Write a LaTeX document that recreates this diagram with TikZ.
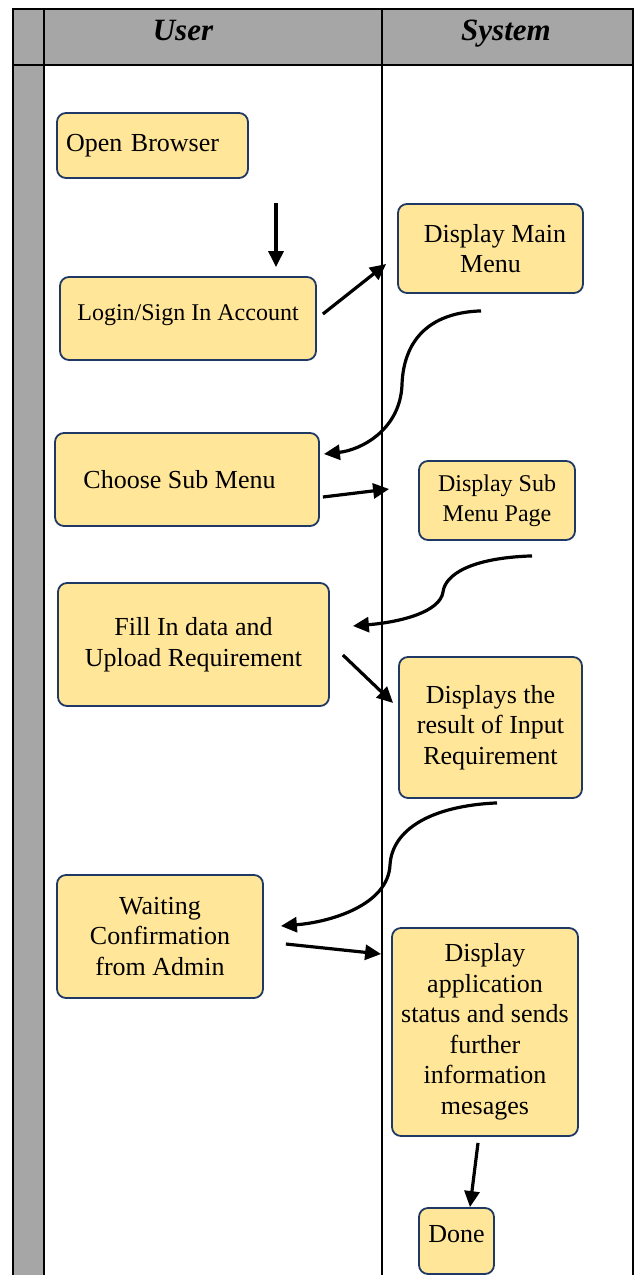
\documentclass[tikz,border=0pt]{standalone}
\usepackage{fontspec}
\setmainfont{Liberation Serif}
\usetikzlibrary{arrows.meta,calc}
\definecolor{boxfill}{HTML}{FFE699}
\definecolor{boxline}{HTML}{1F3864}
\definecolor{lanegray}{HTML}{A6A6A6}
\begin{document}
\begin{tikzpicture}[x=1pt,y=-1pt,
  act/.style={draw=boxline, line width=1.8pt, fill=boxfill, rounded corners=9pt,
    align=center, inner sep=0pt, font=\fontsize{26}{30.5}\selectfont},
  smalltext/.style={font=\fontsize{24}{30}\selectfont},
  flow/.style={line width=3.2pt, -{Triangle[length=16pt,width=15pt]}},
  lane/.style={line width=2pt},
  head/.style={font=\fontsize{31}{31}\selectfont\bfseries\itshape, anchor=base}]
\useasboundingbox (0,0) rectangle (635,1275);
% swimlane table
\fill[lanegray] (13,9) rectangle (633,65);
\fill[lanegray] (13,65) rectangle (44,1275);
\draw[lane] (13,1275) -- (13,9) -- (633,9) -- (633,1275);
\draw[lane] (13,65) -- (633,65);
\draw[lane] (44,9) -- (44,1275);
\draw[line width=1.5pt] (382,9) -- (382,1275);
\node[head] (user) at (183,40) {User};
\node[head] (system) at (506,40) {System};
% activities
\node[act, text width=173pt, align=left, inner xsep=9pt, minimum height=65pt] (open) at (152.5,145.5) {Open Browser};
\node[act, smalltext, minimum width=256pt, minimum height=83pt, text depth=12pt] (login) at (188,318.5) {Login/Sign In Account};
\node[act, minimum width=185pt, minimum height=89pt] (main) at (490.5,248.5) {\hspace*{9pt}Display Main\\Menu};
\node[act, minimum width=264pt, minimum height=93pt] (choose) at (187,479.5) {Choose Sub Menu\hspace*{15pt}};
\node[act, smalltext, minimum width=156pt, minimum height=79pt] (sub) at (497,500.5) {Display Sub\\Menu Page};
\node[act, minimum width=271pt, minimum height=123pt] (fill) at (193.5,644.5) {Fill In data and\\Upload Requirement};
\node[act, minimum width=183pt, minimum height=141pt] (result) at (490.5,727.5) {Displays the\\result of Input\\Requirement};
\node[act, minimum width=206pt, minimum height=123pt] (wait) at (160,936.5) {Waiting\\Confirmation\\from Admin};
\node[act, minimum width=186pt, minimum height=208pt] (app) at (485,1032) {Display\\application\\status and sends\\further\\information\\mesages\\[-24pt]};
\node[act, minimum width=75pt, minimum height=66pt, text depth=14pt] (done) at (456.5,1241) {Done};
% connectors
\coordinate (start) at (276,203);
\draw[flow] (start) -- ($(login.north)+(88,-9)$);
\draw[flow] ($(login.east)+(6,-4.5)$) -- ($(main.west)+(-11,15.5)$);
\draw[flow] ($(main.south)+(-9.5,17)$) .. controls +(-61,2) and +(1,-35) .. (402,385)
   .. controls +(-2,45) and +(37,-4) .. ($(choose.east)+(4,-25.5)$);
\draw[flow] ($(choose.east)+(3,17.5)$) -- ($(sub.west)+(-29,-11.5)$);
\draw[flow] ($(sub.south)+(35,15)$) .. controls +(-62,2) and +(2,-17) .. (443,592)
   .. controls +(-3,20) and +(48,-4) .. ($(fill.east)+(23,-18.5)$);
\draw[flow] ($(fill.east)+(13,10.5)$) -- ($(result.west)+(-5,-24.5)$);
\draw[flow] ($(result.south)+(6.5,4)$) .. controls +(-67,3) and +(2,-35) .. (390,865)
   .. controls +(-2,40) and +(50,-4) .. ($(wait.east)+(17,-10.5)$);
\draw[flow] ($(wait.east)+(22,7.5)$) -- ($(app.west)+(-10,-78)$);
\draw[flow] ($(app.south)+(-7,6)$) -- ($(done.north)+(13.5,0)$);
\end{tikzpicture}
\end{document}
